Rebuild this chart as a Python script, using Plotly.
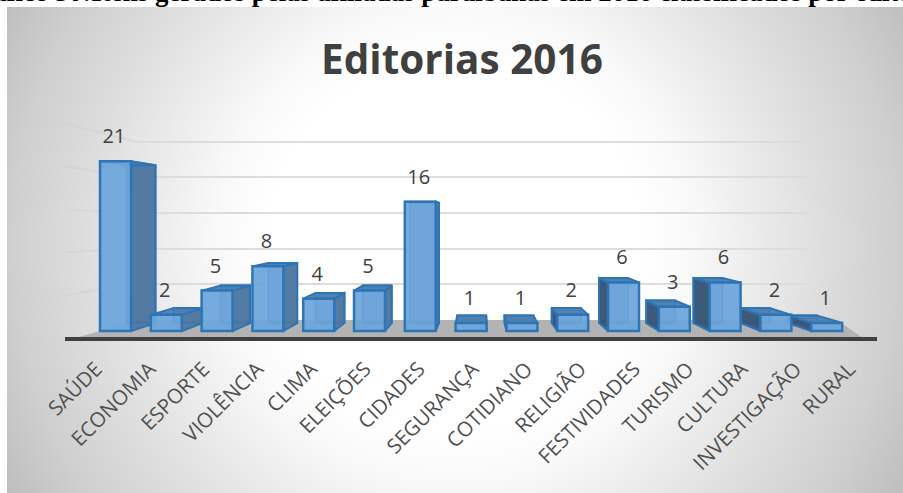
import base64
import plotly.graph_objects as go

categories = ["SAÚDE", "ECONOMIA", "ESPORTE", "VIOLÊNCIA", "CLIMA", "ELEIÇÕES", "CIDADES",
              "SEGURANÇA", "COTIDIANO", "RELIGIÃO", "FESTIVIDADES", "TURISMO", "CULTURA",
              "INVESTIGAÇÃO", "RURAL"]
values = [21, 2, 5, 8, 4, 5, 16, 1, 1, 2, 6, 3, 6, 2, 1]
title_text = "Editorias 2016"
caption_text = "Gráfico 30:Itens gerados pelas afiliadas paraibanas em 2016 classificados por editoria"

W, H = 903, 493

# Pixel layout of the page, used only to set axis domains and ranges.
FIRST_BAR_X, BAR_STEP = 115.5, 50.8
BASE_Y, UNIT_PX = 331.0, 8.08
WALL_Y0, WALL_UNIT = 320.0, 7.14
WALL_LEFT, WALL_RIGHT = 135, 807
AXIS_LEFT, AXIS_RIGHT, AXIS_Y = 65, 877, 339

BAR_WIDTH = 0.61          # in category units
DEPTH_SCALE = 0.93        # size of the rear face relative to the front
VANISH_X = (480 - FIRST_BAR_X) / BAR_STEP
VANISH_V = (BASE_Y - 218) / UNIT_PX
LABEL_RISE = 2.85         # value-label offset above a bar, in value units
LABEL_SHIFT = -0.03

BLUE_EDGE = "#2E75B6"


def px(x):
    return x / W


def py(y):
    return 1 - y / H


def rear(x, v):
    """Project a front-plane point onto the rear plane of the 3-D column."""
    return (VANISH_X + DEPTH_SCALE * (x - VANISH_X),
            VANISH_V + DEPTH_SCALE * (v - VANISH_V))


def face(corners, fill):
    xs = [c[0] for c in corners] + [corners[0][0]]
    ys = [c[1] for c in corners] + [corners[0][1]]
    return go.Scatter(x=xs, y=ys, mode="lines", fill="toself", fillcolor=fill,
                      line=dict(color=BLUE_EDGE, width=2), hoverinfo="skip",
                      showlegend=False, xaxis="x2", yaxis="y2")


# Panel background: soft radial fade from white to grey.
svg = f"""<svg xmlns="http://www.w3.org/2000/svg" width="{W}" height="{H}" viewBox="0 0 {W} {H}">
<defs><radialGradient id="g" gradientUnits="userSpaceOnUse" cx="455" cy="245" r="515">
<stop offset="0" stop-color="#ffffff"/><stop offset="0.36" stop-color="#ffffff"/>
<stop offset="0.46" stop-color="#f9f9f9"/><stop offset="0.56" stop-color="#eeeeee"/>
<stop offset="0.72" stop-color="#dddddd"/>
<stop offset="0.86" stop-color="#cfcfcf"/><stop offset="1" stop-color="#bdbdbd"/>
</radialGradient></defs>
<rect x="7" y="7" width="{W - 7}" height="{H - 7}" fill="url(#g)"/>
</svg>"""
bg_uri = "data:image/svg+xml;base64," + base64.b64encode(svg.encode()).decode()

fig = go.Figure()

# Rear wall subplot: it exists only to carry the gridlines.
fig.add_trace(go.Scatter(x=[0, 1], y=[5, 5], mode="none", hoverinfo="skip", showlegend=False,
                         xaxis="x", yaxis="y"))

# Depth faces, outermost columns first so the inner ones overlap them.
order = sorted(range(len(values)), key=lambda k: -abs(k - VANISH_X))
for i in order:
    v = values[i]
    left, right = i - BAR_WIDTH / 2, i + BAR_WIDTH / 2
    bl, br = rear(left, 0), rear(right, 0)
    tl, tr = rear(left, v), rear(right, v)
    # rear face
    fig.add_trace(face([bl, br, tr, tl], "rgba(70,110,155,0.55)"))
    # side face that points toward the viewer's centre line
    if i < VANISH_X:
        fig.add_trace(face([(right, 0), br, tr, (right, v)], "rgba(78,118,160,0.92)"))
    else:
        fig.add_trace(face([(left, 0), bl, tl, (left, v)], "rgba(55,85,118,0.95)"))
    # top face
    fig.add_trace(face([(left, v), (right, v), tr, tl], "rgba(75,125,175,0.92)"))

# Front faces and value labels sit on an overlaid pair of axes.
fig.add_trace(go.Bar(x=list(range(len(values))), y=values, width=BAR_WIDTH,
                     marker=dict(color="rgba(108,165,220,0.93)",
                                 line=dict(color=BLUE_EDGE, width=2.5)),
                     hoverinfo="skip", showlegend=False, xaxis="x3", yaxis="y3"))
fig.add_trace(go.Scatter(x=[i + LABEL_SHIFT for i in range(len(values))],
                         y=[v + LABEL_RISE for v in values],
                         mode="text", text=[str(v) for v in values], textposition="middle center",
                         textfont=dict(family="Open Sans", size=20, color="#404040"),
                         hoverinfo="skip", showlegend=False, xaxis="x3", yaxis="y3"))

# Category axis along the front edge of the floor.
fig.add_trace(go.Scatter(x=categories, y=values, mode="none", hoverinfo="skip", showlegend=False,
                         xaxis="x4", yaxis="y3"))

hidden = dict(visible=False, showgrid=False, zeroline=False)
bars_x = dict(range=[(0 - FIRST_BAR_X) / BAR_STEP, (W - FIRST_BAR_X) / BAR_STEP],
              domain=[0, 1], **hidden)
bars_y = dict(range=[(BASE_Y - H) / UNIT_PX, BASE_Y / UNIT_PX], domain=[0, 1], **hidden)

# Floor plane and the faint grid continuation on the left wall.
shapes = [dict(type="path", xref="paper", yref="paper", layer="below",
               path=f"M {px(75)} {py(338)} L {px(140)} {py(320)} L {px(837)} {py(320)} "
                    f"L {px(863)} {py(338)} Z",
               fillcolor="#b3b3b3", line=dict(width=0))]
for tick in (5, 10, 15, 20, 25):
    wall_y = WALL_Y0 - WALL_UNIT * tick
    shapes.append(dict(type="line", xref="paper", yref="paper", layer="below",
                       x0=px(66), x1=px(WALL_LEFT),
                       y0=py(wall_y + (wall_y - 230) * 0.2), y1=py(wall_y),
                       line=dict(color="rgba(205,205,205,0.4)", width=2)))

fig.update_layout(
    width=W, height=H, autosize=False,
    margin=dict(l=0, r=0, t=0, b=0),
    paper_bgcolor="white", plot_bgcolor="rgba(0,0,0,0)",
    barmode="overlay", showlegend=False,
    images=[dict(source=bg_uri, xref="paper", yref="paper", x=0, y=1, sizex=1, sizey=1,
                 xanchor="left", yanchor="top", sizing="stretch", layer="below")],
    shapes=shapes,
    xaxis=dict(domain=[px(WALL_LEFT), px(WALL_RIGHT)], range=[0, 1], visible=False,
               showgrid=False, zeroline=False),
    yaxis=dict(domain=[py(WALL_Y0 - 2 * WALL_UNIT), py(WALL_Y0 - 26 * WALL_UNIT)], range=[2, 26],
               tick0=0, dtick=5, showgrid=True, gridcolor="#dcdcdc", gridwidth=2,
               zeroline=False, showline=False, showticklabels=False, ticks=""),
    xaxis2=dict(anchor="y2", **bars_x),
    yaxis2=dict(anchor="x2", **bars_y),
    xaxis3=dict(overlaying="x2", anchor="y3", **bars_x),
    yaxis3=dict(overlaying="y2", anchor="x3", **bars_y),
    xaxis4=dict(type="category", categoryorder="array", categoryarray=categories,
                domain=[px(AXIS_LEFT), px(AXIS_RIGHT)], range=[-0.52, 14.57],
                anchor="free", position=py(AXIS_Y), side="bottom",
                showline=True, linecolor="#404040", linewidth=4, showgrid=False, zeroline=False,
                ticks="", tickangle=-45, automargin=False, ticklabelstandoff=8, ticklabelshift=3,
                tickfont=dict(family="Open Sans", size=20.5, color="#505050")),
    annotations=[
        dict(text=f"<b>{title_text}</b>", xref="paper", yref="paper", x=px(462), y=py(58.5),
             xanchor="center", yanchor="middle", showarrow=False,
             font=dict(family="Open Sans", size=40.5, color="#404040")),
        dict(text=f"<b>{caption_text}</b>", xref="paper", yref="paper", x=px(452), y=py(9),
             xanchor="center", yanchor="bottom", showarrow=False,
             font=dict(family="Liberation Serif", size=27, color="black")),
    ],
)

fig.write_html("out.html", config=dict(displayModeBar=False))
